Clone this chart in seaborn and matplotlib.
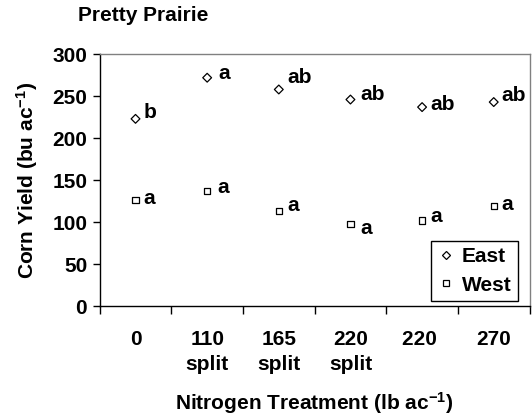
import pandas as pd
import numpy as np
import matplotlib.pyplot as plt
import seaborn as sns
from matplotlib.lines import Line2D

# --- data ---
treatments = ["0", "110\nsplit", "165\nsplit", "220\nsplit", "220 ", "270"]
east_yield = [223, 272, 258, 246, 237, 243]
west_yield = [126, 137, 113, 98, 102, 119]
east_letters = ["b", "a", "ab", "ab", "ab", "ab"]
west_letters = ["a", "a", "a", "a", "a", "a"]

# letter offsets from each marker (pixels)
east_offsets = [(8, 6), (11, 4), (9, 12), (10, 5), (8, 3), (8, 7)]
west_offsets = [(8, 2), (10, 4), (9, 6), (10, -5), (8, 4), (8, 2)]

df = pd.DataFrame({
    "Treatment": treatments * 2,
    "Yield": east_yield + west_yield,
    "Site": ["East"] * 6 + ["West"] * 6,
})

sns.set_theme(style="white")
plt.rcParams["font.family"] = ["Liberation Sans", "DejaVu Sans"]
plt.rcParams["font.weight"] = "bold"
plt.rcParams["text.color"] = "black"
plt.rcParams["axes.labelcolor"] = "black"
plt.rcParams["xtick.color"] = "black"
plt.rcParams["ytick.color"] = "black"
plt.rcParams["mathtext.fontset"] = "custom"
plt.rcParams["mathtext.rm"] = "Liberation Sans:bold"
plt.rcParams["mathtext.bf"] = "Liberation Sans:bold"
plt.rcParams["mathtext.default"] = "bf"

FS = 15
fig = plt.figure(figsize=(5.32, 4.17), dpi=100)
ax = fig.add_axes([0.1874, 0.266, 0.808, 0.604])

sns.scatterplot(
    data=df, x="Treatment", y="Yield", hue="Site", style="Site",
    markers={"East": "D", "West": "s"},
    palette={"East": "white", "West": "white"},
    edgecolor="black", linewidth=0.9, s=20, legend=False, ax=ax, zorder=3,
)

for i, (v, lab, off) in enumerate(zip(east_yield, east_letters, east_offsets)):
    ax.annotate(lab, xy=(i, v), xytext=off, textcoords="offset pixels",
                ha="left", va="center", fontsize=FS, fontweight="bold")
for i, (v, lab, off) in enumerate(zip(west_yield, west_letters, west_offsets)):
    ax.annotate(lab, xy=(i, v), xytext=off, textcoords="offset pixels",
                ha="left", va="center", fontsize=FS, fontweight="bold")

ax.set_xlim(-0.5, len(treatments) - 0.5)
ax.set_ylim(0, 300)
ax.set_yticks(np.arange(0, 301, 50))
ax.set_xticks(range(len(treatments)))
ax.set_xticklabels(treatments, fontsize=FS, fontweight="bold", linespacing=1.45)
ax.set_xticks(np.arange(-0.5, len(treatments), 1), minor=True)
ax.tick_params(axis="x", which="major", length=0, pad=17)
ax.tick_params(axis="x", which="minor", length=6, width=1, color="black",
               direction="out", bottom=True)
ax.tick_params(axis="y", which="major", length=5, width=1, color="black",
               direction="out", left=True, pad=4, labelsize=FS)
for t in ax.get_yticklabels():
    t.set_fontweight("bold")

for side in ["left", "bottom"]:
    ax.spines[side].set_color("black")
    ax.spines[side].set_linewidth(1)
for side in ["top", "right"]:
    ax.spines[side].set_color("#808080")
    ax.spines[side].set_linewidth(1)

ax.set_xlabel(r"Nitrogen Treatment (lb ac$^{-1}$)", fontsize=FS, fontweight="bold")
ax.xaxis.set_label_coords(0.5, -0.335)
ax.set_ylabel(r"Corn Yield (bu ac$^{-1}$)", fontsize=FS, fontweight="bold")
ax.yaxis.set_label_coords(-0.14, 0.5)

fig.text(0.147, 0.964, "Pretty Prairie", fontsize=FS, fontweight="bold",
         ha="left", va="center")

handles = [
    Line2D([], [], marker="D", linestyle="none", markerfacecolor="white",
           markeredgecolor="black", markersize=4.5, markeredgewidth=0.9, label="East"),
    Line2D([], [], marker="s", linestyle="none", markerfacecolor="white",
           markeredgecolor="black", markersize=4.5, markeredgewidth=0.9, label="West"),
]
leg = ax.legend(handles=handles, loc="lower right", bbox_to_anchor=(0.972, 0.02),
                borderaxespad=0, frameon=True, fancybox=False, edgecolor="black",
                framealpha=1, prop={"size": FS, "weight": "bold"}, handlelength=0.8,
                handletextpad=0.35, borderpad=0.3, labelspacing=0.45)
leg.get_frame().set_linewidth(1)

fig.savefig("out.png", dpi=100)
